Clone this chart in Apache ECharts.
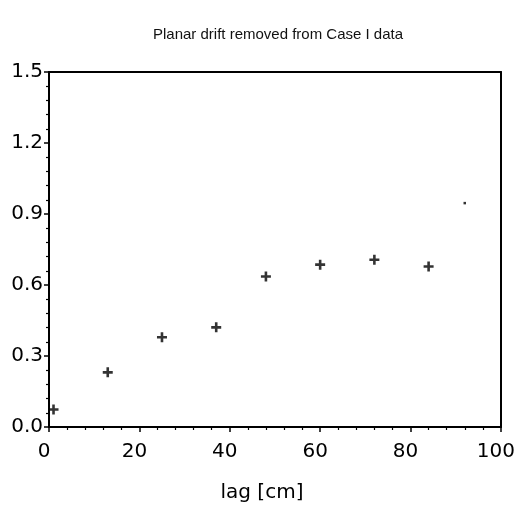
<!DOCTYPE html>
<html><head><meta charset="utf-8">
<script src="https://cdn.jsdelivr.net/npm/echarts@6/dist/echarts.min.js"></script>
<style>html,body{margin:0;padding:0;background:#fff}#c{width:518px;height:516px}</style>
</head><body><div id="c"></div>
<script>
const lagValues = [1, 13, 25, 37, 48, 60, 72, 84];
const gammaValues = [0.074, 0.231, 0.379, 0.421, 0.636, 0.686, 0.707, 0.678];
const strayDot = [[92, 0.946]];
const xTicks = [0, 20, 40, 60, 80, 100];
const yTicks = [0.0, 0.3, 0.6, 0.9, 1.2, 1.5];
const titleText = 'Planar drift removed from Case I data';
const xName = 'lag [cm]';

const plusPath = 'path://M-1.3,-5L1.3,-5L1.3,-1.3L5,-1.3L5,1.3L1.3,1.3L1.3,5L-1.3,5L-1.3,1.3L-5,1.3L-5,-1.3L-1.3,-1.3Z';
const font = 'Liberation Sans, Arial, sans-serif';
const tickFont = 'DejaVu Sans, sans-serif';
const chart = echarts.init(document.getElementById('c'));
const axisLine = {show: true, onZero: false, lineStyle: {color: '#000', width: 2}};
chart.setOption({
  animation: false,
  backgroundColor: '#fff',
  title: {text: titleText, left: 273, top: 22, textAlign: 'center',
    textStyle: {fontFamily: font, fontSize: 15, fontWeight: 'normal', color: '#111'}},
  grid: {left: 49, right: 16, top: 72, bottom: 89},
  xAxis: [{
    type: 'value', min: xTicks[0], max: xTicks[xTicks.length-1], interval: 20,
    axisLine: axisLine,
    axisTick: {show: true, inside: false, length: 5, lineStyle: {color: '#000', width: 1.5}},
    minorTick: {show: true, splitNumber: 5, length: 3, lineStyle: {color: '#000', width: 1.2}},
    splitLine: {show: false},
    axisLabel: {color: '#000', fontFamily: tickFont, fontSize: 20, margin: 15, padding: [0, 10, 0, 0]},
    name: xName, nameLocation: 'middle', nameGap: 56,
    nameTextStyle: {color: '#000', fontFamily: tickFont, fontSize: 20, padding: [0, 26, 0, 0]}
  }, {
    type: 'value', position: 'top', min: 0, max: 100,
    axisLine: axisLine, axisTick: {show: false}, axisLabel: {show: false}, splitLine: {show: false}
  }],
  yAxis: [{
    type: 'value', min: yTicks[0], max: yTicks[yTicks.length-1], interval: 0.3,
    axisLine: axisLine,
    axisTick: {show: true, inside: false, length: 5, lineStyle: {color: '#000', width: 1.5}},
    minorTick: {show: true, splitNumber: 5, length: 3, lineStyle: {color: '#000', width: 1.2}},
    splitLine: {show: false},
    axisLabel: {color: '#000', fontFamily: tickFont, fontSize: 20, margin: 6, padding: [10, 0, 0, 0],
      formatter: v => v.toFixed(1)}
  }, {
    type: 'value', position: 'right', min: 0, max: 1.5,
    axisLine: axisLine, axisTick: {show: false}, axisLabel: {show: false}, splitLine: {show: false}
  }],
  series: [{
    type: 'scatter', xAxisIndex: 0, yAxisIndex: 0,
    data: lagValues.map((x, i) => [x, gammaValues[i]]),
    symbol: plusPath, symbolSize: 10,
    itemStyle: {color: '#000'}
  }, {
    type: 'scatter', xAxisIndex: 0, yAxisIndex: 0,
    data: strayDot, symbol: 'rect', symbolSize: 2.5,
    itemStyle: {color: '#000'}
  }]
});
</script></body></html>
